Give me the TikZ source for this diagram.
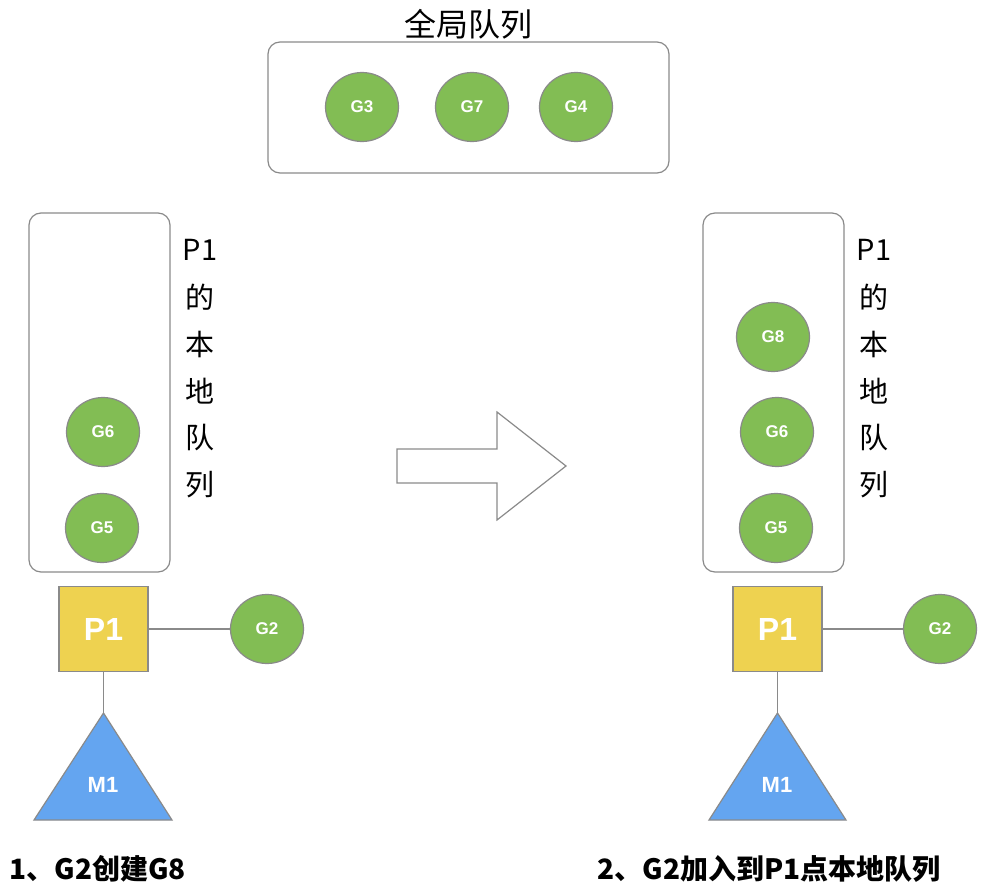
\documentclass[tikz,border=0pt]{standalone}
\usepackage{fontspec}
\setmainfont{Liberation Sans}
\newfontfamily\cjk{Noto Sans CJK SC}
\usetikzlibrary{shapes.geometric,positioning}
\definecolor{ggreen}{RGB}{130,189,84}
\definecolor{pyellow}{RGB}{238,210,80}
\definecolor{mblue}{RGB}{100,165,240}
\definecolor{edgegray}{RGB}{138,138,138}

\tikzset{
  gnode/.style={ellipse,draw=edgegray,line width=1.2pt,fill=ggreen,minimum width=73pt,minimum height=69pt,inner sep=0pt,text=white,font=\fontsize{17}{17}\selectfont\bfseries},
  pnode/.style={rectangle,draw=edgegray,line width=1.2pt,fill=pyellow,minimum width=89pt,minimum height=85pt,inner sep=0pt,text=white,font=\fontsize{32}{32}\selectfont\bfseries},
  queuebox/.style={draw=edgegray,line width=1.2pt,rounded corners=12pt,inner sep=0pt},
  link/.style={draw=edgegray,line width=1.2pt},
  vlabel/.style={font=\cjk\fontsize{29}{29}\selectfont},
  caption/.style={font=\cjk\bfseries\fontsize{28}{28}\selectfont,anchor=west}
}

\begin{document}
\begin{tikzpicture}[x=1pt,y=-1pt]
\useasboundingbox (0,0) rectangle (993,896);
% global queue
\node[vlabel,font=\cjk\fontsize{32}{32}\selectfont] (gtitle) at (468,24) {全局队列};
\node[queuebox,minimum width=401pt,minimum height=131pt] (gq) at (468.5,107.5) {};
\node[gnode] (g3) at (362,107) {G3};
\node[gnode] (g7) at (472,107) {G7};
\node[gnode] (g4) at (576,107) {G4};

% left: before
\node[queuebox,minimum width=141pt,minimum height=359pt] (lqa) at (99.5,392.5) {};
\node[gnode] (g6a) at (103,432) {G6};
\node[gnode] (g5a) at (102,528) {G5};
\foreach \t [count=\i] in {P1,的,本,地,队,列}
  \node[vlabel] (la\i) at (200,{203+47*\i}) {\t};
\node[pnode] (p1a) at (103.5,629) {P1};
\node[gnode] (g2a) at (267,629) {G2};
\draw[link] (p1a) -- (g2a);
\coordinate (m1topa) at (103.5,713);
\draw[edgegray,line width=1.2pt,fill=mblue] (m1topa) -- (172,820) -- (34,820) -- cycle;
\node[text=white,font=\fontsize{22}{22}\selectfont\bfseries] (m1a) at (103,785) {M1};
\draw[link] (p1a) -- (m1topa);
\node[caption] (cap1) at (6,869) {1、G2创建G8};

% transition arrow
\draw[edgegray,line width=1.2pt] (397,449) -- (497,449) -- (497,412) -- (566,466)
  -- (497,520) -- (497,483) -- (397,483) -- cycle;

% right: after
\node[queuebox,minimum width=141pt,minimum height=359pt] (lqb) at (773.5,392.5) {};
\node[gnode] (g8b) at (773,337) {G8};
\node[gnode] (g6b) at (777,432) {G6};
\node[gnode] (g5b) at (776,528) {G5};
\foreach \t [count=\i] in {P1,的,本,地,队,列}
  \node[vlabel] (lb\i) at (874,{203+47*\i}) {\t};
\node[pnode] (p1b) at (777.5,629) {P1};
\node[gnode] (g2b) at (940,629) {G2};
\draw[link] (p1b) -- (g2b);
\coordinate (m1topb) at (777.5,713);
\draw[edgegray,line width=1.2pt,fill=mblue] (m1topb) -- (846,820) -- (709,820) -- cycle;
\node[text=white,font=\fontsize{22}{22}\selectfont\bfseries] (m1b) at (777,785) {M1};
\draw[link] (p1b) -- (m1topb);
\node[caption] (cap2) at (594,869) {2、G2加入到P1点本地队列};
\end{tikzpicture}
\end{document}
